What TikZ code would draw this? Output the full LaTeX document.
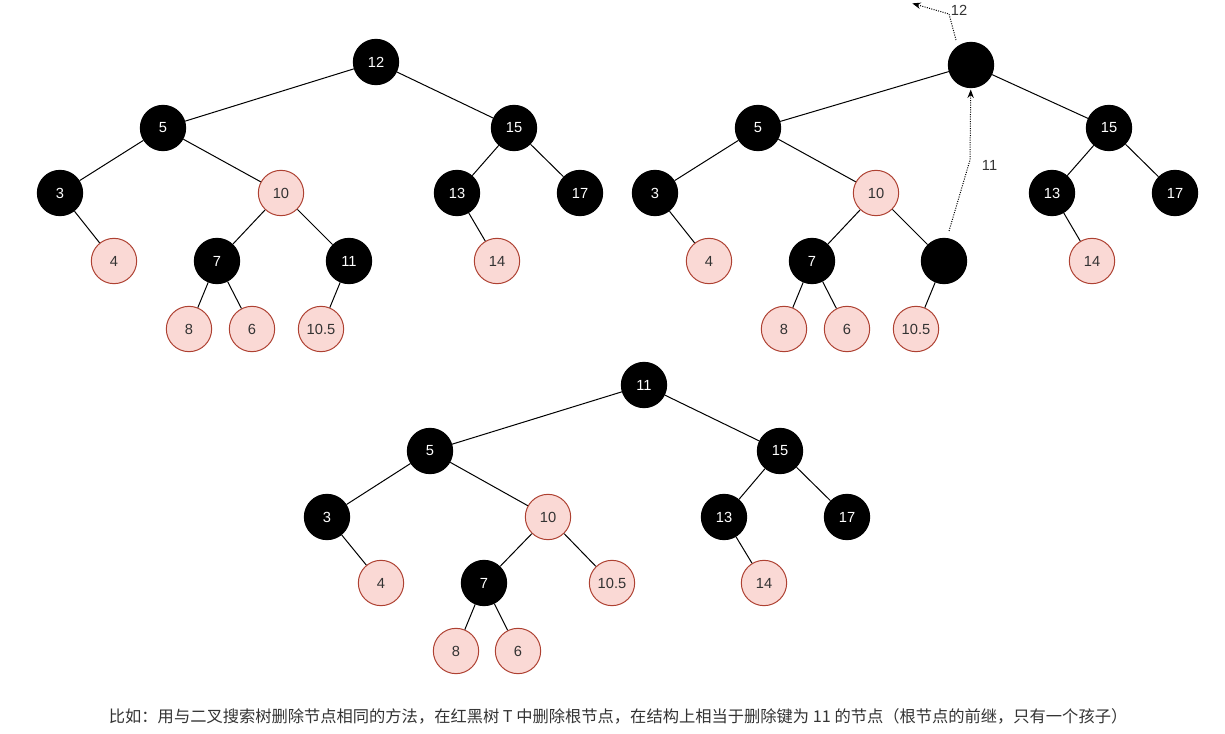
\documentclass[tikz,border=0pt]{standalone}
\usepackage{fontspec}
\setmainfont{Liberation Sans}
\newfontfamily\cjk{Noto Sans CJK SC}
\usetikzlibrary{arrows.meta,calc}

\definecolor{redfill}{HTML}{FAD9D5}
\definecolor{redline}{HTML}{AE4132}

\begin{document}
\begin{tikzpicture}[x=0.75pt, y=-0.75pt, >=Stealth, line width=0.75pt,
  every node/.style={font=\fontsize{11}{13}\selectfont},
  bnode/.style={circle, minimum size=34pt, inner sep=0pt, fill=black, draw=black, text=white},
  rnode/.style={circle, minimum size=34pt, inner sep=0pt, fill=redfill, draw=redline, text=black!80},
  ptr/.style={densely dotted, ->, shorten >=1pt}]
\useasboundingbox (0,0) rectangle (1225,734);

% first tree
\node[bnode] (a12) at (376,62) {12};
\node[bnode] (a5) at (163,128) {5};
\node[bnode] (a15) at (514,128) {15};
\node[bnode] (a3) at (60,193) {3};
\node[rnode] (a10) at (281,193) {10};
\node[bnode] (a13) at (457,193) {13};
\node[bnode] (a17) at (580,193) {17};
\node[rnode] (a4) at (114,261) {4};
\node[bnode] (a7) at (217,261) {7};
\node[bnode] (a11) at (349,261) {11};
\node[rnode] (a14) at (497,261) {14};
\node[rnode] (a8) at (189,329) {8};
\node[rnode] (a6) at (252,329) {6};
\node[rnode] (a105) at (321,329) {10.5};
\draw (a12) -- (a5) (a12) -- (a15) (a5) -- (a3) (a5) -- (a10)
      (a15) -- (a13) (a15) -- (a17) (a3) -- (a4) (a10) -- (a7)
      (a10) -- (a11) (a13) -- (a14) (a7) -- (a8) (a7) -- (a6)
      (a11) -- (a105);

% second tree
\node[bnode] (b12) at (971,65) {};
\node[bnode] (b5) at (758,128) {5};
\node[bnode] (b15) at (1109,128) {15};
\node[bnode] (b3) at (655,193) {3};
\node[rnode] (b10) at (876,193) {10};
\node[bnode] (b13) at (1052,193) {13};
\node[bnode] (b17) at (1175,193) {17};
\node[rnode] (b4) at (709,261) {4};
\node[bnode] (b7) at (812,261) {7};
\node[bnode] (b11) at (944,261) {};
\node[rnode] (b14) at (1092,261) {14};
\node[rnode] (b8) at (784,329) {8};
\node[rnode] (b6) at (847,329) {6};
\node[rnode] (b105) at (916,329) {10.5};
\draw (b12) -- (b5) (b12) -- (b15) (b5) -- (b3) (b5) -- (b10)
      (b15) -- (b13) (b15) -- (b17) (b3) -- (b4) (b10) -- (b7)
      (b10) -- (b11) (b13) -- (b14) (b7) -- (b8) (b7) -- (b6)
      (b11) -- (b105);
\coordinate (up11) at (949,231);
\coordinate (up12) at (956,40);
\coordinate (out12) at (911,3);
\draw[ptr] (up11) -- (970,160) -- (b12);
\node[anchor=west, text=black!80] (l11) at (977,165) {11};
\draw[ptr] (up12) -- (949,14) -- (out12);
\node[anchor=west, text=black!80] (l12) at (946,10) {12};

% third tree
\node[bnode] (c11) at (644,385) {11};
\node[bnode] (c5) at (430,451) {5};
\node[bnode] (c15) at (780,451) {15};
\node[bnode] (c3) at (327,517) {3};
\node[rnode] (c10) at (548,517) {10};
\node[bnode] (c13) at (724,517) {13};
\node[bnode] (c17) at (847,517) {17};
\node[rnode] (c4) at (381,583) {4};
\node[bnode] (c7) at (484,583) {7};
\node[rnode] (c105) at (612,583) {10.5};
\node[rnode] (c14) at (764,583) {14};
\node[rnode] (c8) at (456,651) {8};
\node[rnode] (c6) at (518,651) {6};
\draw (c11) -- (c5) (c11) -- (c15) (c5) -- (c3) (c5) -- (c10)
      (c15) -- (c13) (c15) -- (c17) (c3) -- (c4) (c10) -- (c7)
      (c10) -- (c105) (c13) -- (c14) (c7) -- (c8) (c7) -- (c6);

\node[anchor=west, font=\cjk\fontsize{12.2}{14}\selectfont, text=black!80] (caption) at (104,716)
  {比如：用与二叉搜索树删除节点相同的方法，在红黑树 T 中删除根节点，在结构上相当于删除键为 11 的节点（根节点的前继，只有一个孩子）};
\end{tikzpicture}
\end{document}
